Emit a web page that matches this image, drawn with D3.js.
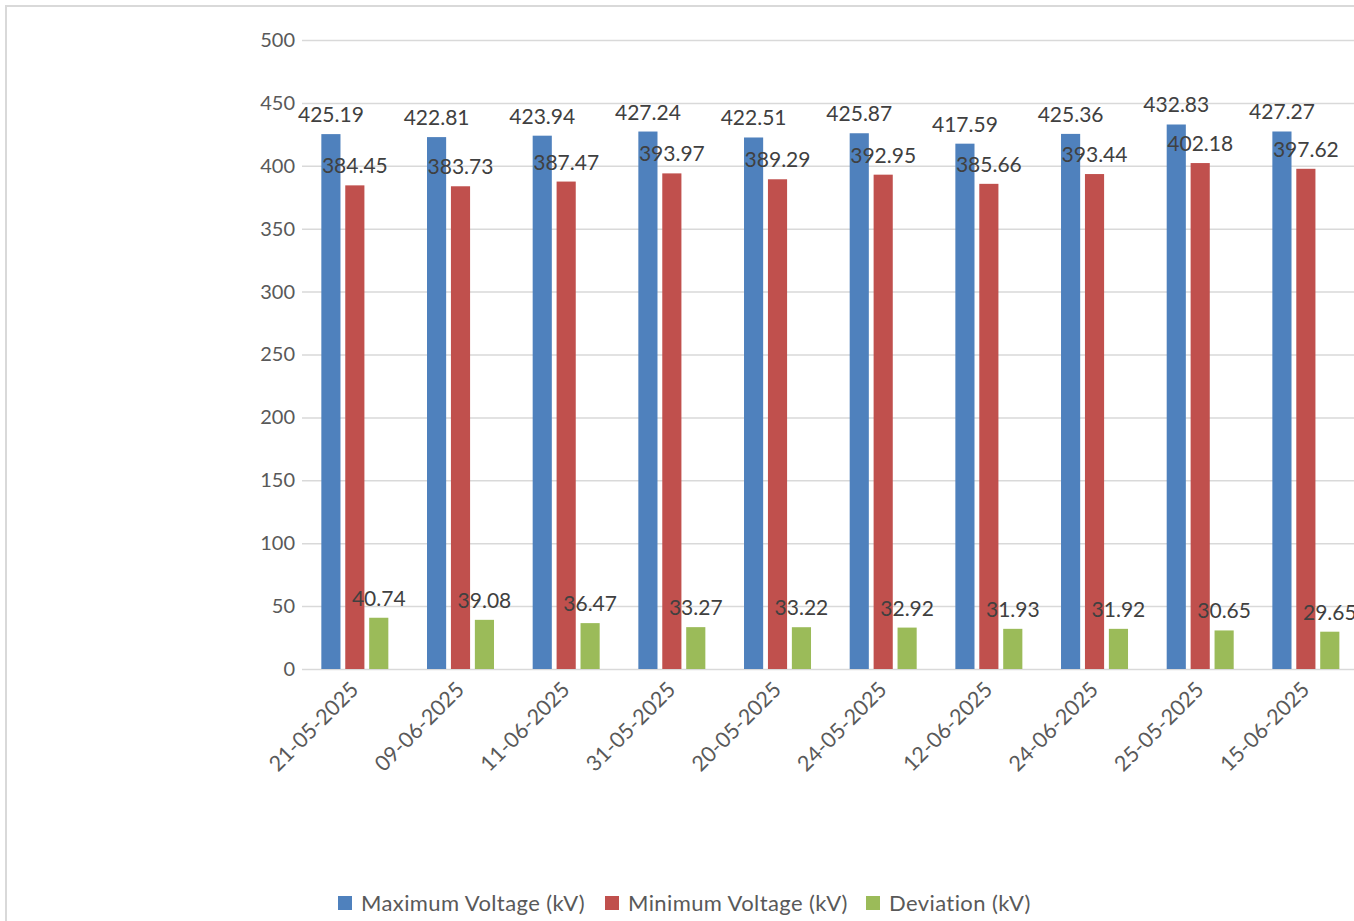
<!DOCTYPE html>
<html>
<head>
<meta charset="utf-8">
<script src="https://cdnjs.cloudflare.com/ajax/libs/d3/7.8.5/d3.min.js"></script>
<style>
  html, body { margin: 0; padding: 0; background: #fff; overflow: hidden; }
  svg { display: block; font-family: Lato, "Open Sans", sans-serif; }
</style>
</head>
<body>
<svg id="chart" width="1354" height="921"></svg>
<script>
// Voltage readings per day
const dates = ["21-05-2025", "09-06-2025", "11-06-2025", "31-05-2025", "20-05-2025",
               "24-05-2025", "12-06-2025", "24-06-2025", "25-05-2025", "15-06-2025"];
const maxVoltage = [425.19, 422.81, 423.94, 427.24, 422.51, 425.87, 417.59, 425.36, 432.83, 427.27];
const minVoltage = [384.45, 383.73, 387.47, 393.97, 389.29, 392.95, 385.66, 393.44, 402.18, 397.62];
const deviation  = [40.74, 39.08, 36.47, 33.27, 33.22, 32.92, 31.93, 31.92, 30.65, 29.65];
const seriesNames = ["Maximum Voltage (kV)", "Minimum Voltage (kV)", "Deviation (kV)"];
const seriesColors = ["#4f81bd", "#c0504d", "#9bbb59"];
const yTicks = [0, 50, 100, 150, 200, 250, 300, 350, 400, 450, 500];

const seriesValues = [maxVoltage, minVoltage, deviation];
const rows = dates.map((d, i) => ({ date: d, values: seriesValues.map(s => s[i]) }));

const svg = d3.select("#chart");

// outer chart frame (extends beyond the visible area)
svg.append("rect")
  .attr("x", 6).attr("y", 6)
  .attr("width", 1420).attr("height", 960)
  .attr("fill", "#fff")
  .attr("stroke", "#d9d9d9").attr("stroke-width", 2);

const plot = { left: 302, right: 1358.7, top: 40, bottom: 669 };

const x = d3.scaleBand()
  .domain(dates)
  .range([plot.left, plot.right])
  .paddingInner(0).paddingOuter(0);

const x1 = d3.scaleBand()
  .domain(d3.range(seriesNames.length))
  .range([-33.5, 33.5])
  .paddingInner(0.2);

const y = d3.scaleLinear().domain([0, 500]).range([plot.bottom, plot.top]);

// gridlines and y labels
const yAxis = svg.append("g")
  .attr("transform", `translate(${plot.left},0)`)
  .call(d3.axisLeft(y).tickValues(yTicks).tickSize(-(plot.right - plot.left)).tickPadding(7).tickFormat(d3.format("d")));
yAxis.select(".domain").remove();
yAxis.selectAll(".tick line").attr("stroke", "#d9d9d9").attr("stroke-width", 1.5);
yAxis.selectAll(".tick text")
  .attr("fill", "#595959").attr("font-size", 20).attr("font-family", "Lato, sans-serif");

// bars
const groups = svg.append("g").selectAll("g")
  .data(rows).join("g")
  .attr("transform", d => `translate(${x(d.date) + x.bandwidth() / 2},0)`);

groups.selectAll("rect")
  .data(d => d.values.map((v, k) => ({ k, v })))
  .join("rect")
  .attr("x", d => x1(d.k))
  .attr("width", x1.bandwidth())
  .attr("y", d => y(d.v))
  .attr("height", d => y(0) - y(d.v))
  .attr("fill", d => seriesColors[d.k]);

// value labels
groups.selectAll("text.val")
  .data(d => d.values.map((v, k) => ({ k, v })))
  .join("text")
  .attr("class", "val")
  .attr("x", d => x1(d.k) + x1.bandwidth() / 2)
  .attr("y", d => y(d.v) - 12)
  .attr("text-anchor", "middle")
  .attr("fill", "#404040")
  .attr("font-size", 21)
  .text(d => d3.format(".2f")(d.v));

// x axis labels
const xAxis = svg.append("g")
  .attr("transform", `translate(0,${plot.bottom})`)
  .call(d3.axisBottom(x).tickSize(0).tickPadding(0));
xAxis.select(".domain").remove();
xAxis.selectAll(".tick text")
  .attr("fill", "#595959").attr("font-size", 21.5).attr("font-family", "Lato, sans-serif")
  .attr("text-anchor", "end")
  .attr("dy", "0")
  .attr("transform", "translate(5,22) rotate(-45)");

// legend
const legendItems = [
  { name: seriesNames[0], color: seriesColors[0], x: 338 },
  { name: seriesNames[1], color: seriesColors[1], x: 605 },
  { name: seriesNames[2], color: seriesColors[2], x: 866 }
];
const legend = svg.append("g").selectAll("g").data(legendItems).join("g")
  .attr("transform", d => `translate(${d.x},903)`);
legend.append("rect")
  .attr("x", 0).attr("y", -7).attr("width", 14).attr("height", 14)
  .attr("fill", d => d.color);
legend.append("text")
  .attr("x", 23).attr("y", 0).attr("dy", "0.36em")
  .attr("fill", "#595959").attr("font-size", 22)
  .attr("letter-spacing", "0.4px")
  .text(d => d.name);
</script>
</body>
</html>
